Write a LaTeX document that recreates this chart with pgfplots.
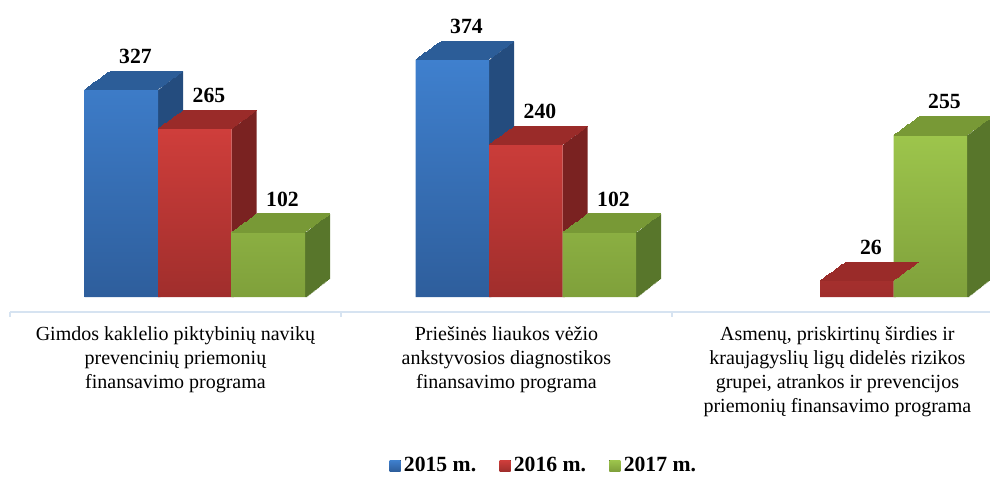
\documentclass[border=0pt]{standalone}
\usepackage{pgfplots}
\pgfplotsset{compat=1.18}
\usepackage{pgfplotstable}
\usepackage{fontspec}
\setmainfont{Liberation Serif}

\definecolor{bluetop}{HTML}{3F80CE}
\definecolor{bluebot}{HTML}{2E5E9C}
\definecolor{blueroof}{HTML}{2C5D98}
\definecolor{blueside}{HTML}{244C7E}
\definecolor{redtop}{HTML}{CF3E3B}
\definecolor{redbot}{HTML}{A02E2C}
\definecolor{redroof}{HTML}{9A2B29}
\definecolor{redside}{HTML}{7A2221}
\definecolor{greentop}{HTML}{9DC54C}
\definecolor{greenbot}{HTML}{7FA03B}
\definecolor{greenroof}{HTML}{789936}
\definecolor{greenside}{HTML}{58762B}
\definecolor{axisblue}{HTML}{D6E3F1}

\pgfplotstableread{
x y
0 327
1 374
}\blueset
\pgfplotstableread{
x y
0 265
1 240
2 26
}\redset
\pgfplotstableread{
x y
0 102
1 102
2 255
}\greenset

\pgfplotsset{
  sqlegend/.style={legend image code/.code={\fill[##1] (0pt,-3.3pt) rectangle (6.6pt,3.3pt);}}
}

% box depth: 15pt right, 10.8pt up, built from 21 slices
% #1 table, #2 bar shift, #3 top face colour, #4 side face colour
\newcommand{\boxdepth}[4]{%
  \pgfplotsinvokeforeach{0,...,20}{%
    \addplot[forget plot, ybar, bar width=1.3pt, bar shift={#2+22.7pt+##1*0.685pt},
      yshift={##1*0.54pt}, fill=#4, draw=none] table {#1};
    \addplot[forget plot, only marks, mark=-, mark size=22.05pt,
      xshift={#2+##1*0.75pt}, yshift={##1*0.54pt},
      mark options={draw=#3, line width=0.9pt}] table {#1};
  }%
}

\begin{document}
\begin{tikzpicture}
\useasboundingbox (0,0) rectangle (594pt,286.8pt);
\begin{axis}[
  at={(6pt,99.6pt)}, anchor=south west,
  width=588pt, height=187.2pt, scale only axis,
  xmin=-0.5, xmax=2.461, ymin=-23.6, ymax=467.7,
  axis x line*=bottom, axis y line=none,
  x axis line style={draw=axisblue, line width=1.4pt},
  xtick={0,1,2}, major tick length=0pt,
  minor xtick={-0.5,0.5,1.5}, minor tick length=3pt, xtick align=outside,
  minor tick style={draw=axisblue, line width=1.2pt},
  xticklabels={{Gimdos kaklelio piktybinių navikų\\prevencinių priemonių\\finansavimo programa},
    {Priešinės liaukos vėžio\\ankstyvosios diagnostikos\\finansavimo programa},
    {Asmenų, priskirtinų širdies ir\\kraujagyslių ligų didelės rizikos\\grupei, atrankos ir prevencijos\\priemonių finansavimo programa}},
  xticklabel style={align=center, font=\fontsize{12}{14.4}\selectfont, yshift=-5pt},
  clip=false,
  /pgf/number format/assume math mode=true,
  every node near coord/.append style={font=\bfseries\fontsize{13}{13}\selectfont,
    xshift=8.4pt, yshift=12pt},
  legend columns=-1,
  legend style={at={(axis description cs:0.5454,-0.4926)}, anchor=center,
    draw=none, fill=none, font=\bfseries\fontsize{13}{13}\selectfont,
    /tikz/every even column/.append style={column sep=12pt}},
]
\boxdepth{\blueset}{-32.4pt}{blueroof}{blueside}
\addplot[ybar, bar width=44.1pt, bar shift=-32.4pt, draw=none,
  top color=bluetop, bottom color=bluebot, nodes near coords,
  every node near coord/.append style={xshift=-32.4pt}, sqlegend] table {\blueset};
\addlegendentry{2015 m.}

\boxdepth{\redset}{11.7pt}{redroof}{redside}
\addplot[ybar, bar width=44.1pt, bar shift=11.7pt, draw=none,
  top color=redtop, bottom color=redbot, nodes near coords,
  every node near coord/.append style={xshift=11.7pt}, sqlegend] table {\redset};
\addlegendentry{2016 m.}

\boxdepth{\greenset}{55.8pt}{greenroof}{greenside}
\addplot[ybar, bar width=44.1pt, bar shift=55.8pt, draw=none,
  top color=greentop, bottom color=greenbot, nodes near coords,
  every node near coord/.append style={xshift=55.8pt}, sqlegend] table {\greenset};
\addlegendentry{2017 m.}
\end{axis}
\end{tikzpicture}
\end{document}
